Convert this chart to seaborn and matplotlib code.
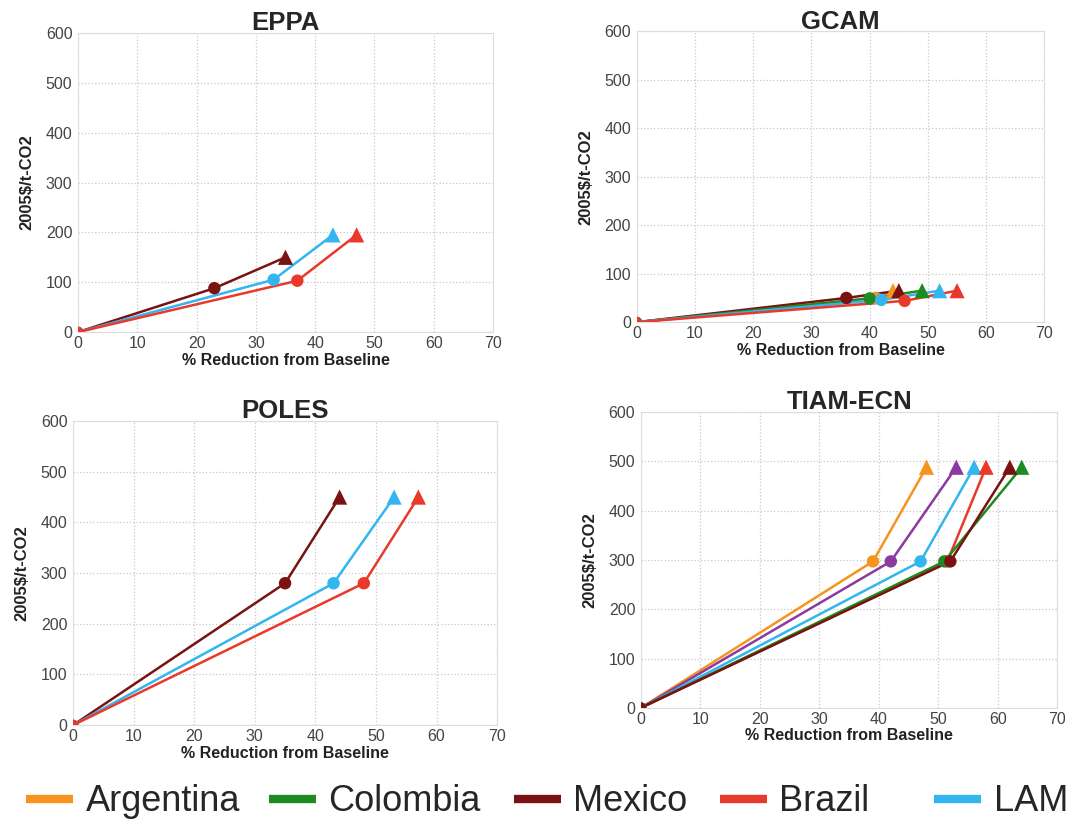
import matplotlib
matplotlib.use("Agg")
import matplotlib.pyplot as plt
from matplotlib.lines import Line2D
import pandas as pd
import seaborn as sns

# carbon price (2005$/t-CO2) vs % reduction from baseline, per model
MODELS = ["EPPA", "GCAM", "POLES", "TIAM-ECN"]

EPPA_COUNTRIES = ["Mexico", "LAM", "Brazil"]
EPPA_X_MID = [23, 33, 37]
EPPA_Y_MID = [88, 105, 103]
EPPA_X_HIGH = [35, 43, 47]
EPPA_Y_HIGH = [150, 195, 195]

GCAM_COUNTRIES = ["Argentina", "Mexico", "Colombia", "LAM", "Brazil"]
GCAM_X_MID = [41, 36, 40, 42, 46]
GCAM_Y_MID = [50, 50, 49, 46, 44]
GCAM_X_HIGH = [44, 45, 49, 52, 55]
GCAM_Y_HIGH = [65, 65, 65, 65, 65]

POLES_COUNTRIES = ["Mexico", "LAM", "Brazil"]
POLES_X_MID = [35, 43, 48]
POLES_Y_MID = [280, 280, 280]
POLES_X_HIGH = [44, 53, 57]
POLES_Y_HIGH = [450, 450, 450]

TIAM_COUNTRIES = ["Argentina", "Other", "LAM", "Brazil", "Colombia", "Mexico"]
TIAM_X_MID = [39, 42, 47, 51.5, 51, 52]
TIAM_Y_MID = [297, 297, 297, 297, 297, 297]
TIAM_X_HIGH = [48, 53, 56, 58, 64, 62]
TIAM_Y_HIGH = [488, 488, 488, 488, 488, 488]

LEGEND_COUNTRIES = ["Argentina", "Colombia", "Mexico", "Brazil", "LAM"]

PALETTE = {
    "Argentina": "#f7941d",
    "Colombia": "#1e8a22",
    "Mexico": "#7a1212",
    "Brazil": "#e8392b",
    "LAM": "#33b5f0",
    "Other": "#8b3a9e",
}


def build_frame(countries, x_mid, y_mid, x_high, y_high):
    rows = []
    for i, c in enumerate(countries):
        rows.append({"country": c, "stage": "base", "reduction": 0, "price": 0})
        rows.append({"country": c, "stage": "mid", "reduction": x_mid[i], "price": y_mid[i]})
        rows.append({"country": c, "stage": "high", "reduction": x_high[i], "price": y_high[i]})
    return pd.DataFrame(rows)


frames = {
    "EPPA": build_frame(EPPA_COUNTRIES, EPPA_X_MID, EPPA_Y_MID, EPPA_X_HIGH, EPPA_Y_HIGH),
    "GCAM": build_frame(GCAM_COUNTRIES, GCAM_X_MID, GCAM_Y_MID, GCAM_X_HIGH, GCAM_Y_HIGH),
    "POLES": build_frame(POLES_COUNTRIES, POLES_X_MID, POLES_Y_MID, POLES_X_HIGH, POLES_Y_HIGH),
    "TIAM-ECN": build_frame(TIAM_COUNTRIES, TIAM_X_MID, TIAM_Y_MID, TIAM_X_HIGH, TIAM_Y_HIGH),
}

sns.set_style("whitegrid")
plt.rcParams["font.family"] = ["Liberation Sans", "DejaVu Sans"]

fig = plt.figure(figsize=(10.79, 8.24), dpi=100)

# axes positions [left, bottom, width, height] in figure fraction
positions = {
    "EPPA": [0.0723, 0.597, 0.3846, 0.363],
    "GCAM": [0.590, 0.609, 0.378, 0.353],
    "POLES": [0.0677, 0.120, 0.393, 0.369],
    "TIAM-ECN": [0.594, 0.141, 0.386, 0.359],
}

for model in MODELS:
    ax = fig.add_axes(positions[model])
    df = frames[model]
    sns.lineplot(data=df, x="reduction", y="price", hue="country", palette=PALETTE,
                 sort=False, estimator=None, linewidth=1.8, legend=False, ax=ax)
    sns.scatterplot(data=df, x="reduction", y="price", hue="country", style="stage",
                    markers={"base": "o", "mid": "o", "high": "^"}, size="stage",
                    sizes={"base": 60, "mid": 80, "high": 120},
                    palette=PALETTE, linewidth=0, legend=False, ax=ax, zorder=3)

    ax.set_xlim(0, 70)
    ax.set_ylim(0, 600)
    ax.set_xticks(range(0, 71, 10))
    ax.set_yticks(range(0, 601, 100))
    ax.grid(True, linestyle=":", color="#c8c8c8", linewidth=0.9)
    for s in ax.spines.values():
        s.set_color("#dddddd")
        s.set_linewidth(0.8)
    ax.tick_params(axis="both", labelsize=11.5, labelcolor="#444444", length=3,
                   width=0.6, pad=1, direction="out", color="#bbbbbb")
    ax.tick_params(axis="x", pad=0)
    ax.set_title(model, fontsize=18.5, fontweight="bold", pad=2)
    ax.set_xlabel("% Reduction from Baseline", fontsize=11.5, fontweight="bold",
                  labelpad=1, color="#222222")
    ax.set_ylabel("2005$/t-CO2", fontsize=12, fontweight="bold", labelpad=8,
                  color="#222222")

# legend entries placed individually (the last one sits further right)
legend_x = [0.024, 0.249, 0.476, 0.667, 0.866]
for c, lx in zip(LEGEND_COUNTRIES, legend_x):
    h = Line2D([0], [0], color=PALETTE[c], linewidth=6, solid_capstyle="butt")
    fig.legend([h], [c], loc="center left", bbox_to_anchor=(lx, 0.027),
               frameon=False, borderpad=0, borderaxespad=0,
               handlelength=1.3, handletextpad=0.35,
               prop={"size": 26})

fig.savefig("out.png", dpi=100)
